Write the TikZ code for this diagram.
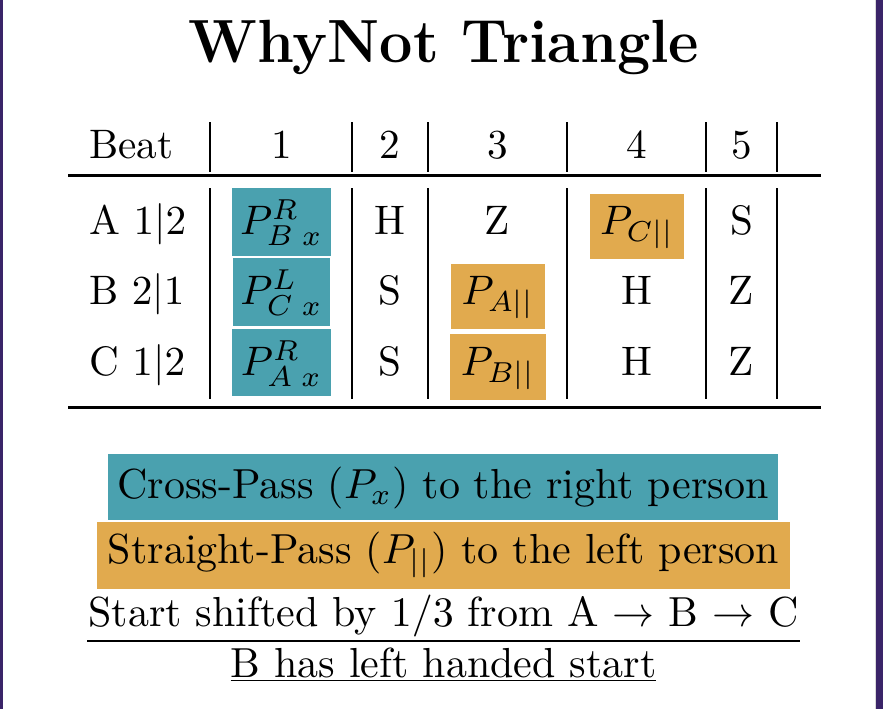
\RequirePackage{fix-cm}
\documentclass[tikz,border=0pt]{standalone}
\definecolor{tealc}{RGB}{74,161,175}
\definecolor{orangec}{RGB}{225,170,78}
\definecolor{purplec}{RGB}{58,36,104}
\newcommand{\tabtxt}[1]{\scalebox{4.12}{#1}}
\newcommand{\legtxt}[1]{\scalebox{4.2}{#1}}
\begin{document}
\begin{tikzpicture}[x=1pt,y=-1pt,
  every node/.style={inner sep=0pt, outer sep=0pt, font=\fontsize{10}{12}\selectfont},
  cell/.style={anchor=base},
  lcell/.style={anchor=base west},
  tealcell/.style={anchor=base, fill=tealc, text height=46pt, text depth=22pt, minimum width=99pt},
  orcell/.style={anchor=base, fill=orangec, text height=40pt, text depth=25pt, minimum width=95pt},
  tabrule/.style={line width=3pt},
  colrule/.style={line width=1.5pt},
]
\useasboundingbox (0,0) rectangle (883,709);
\fill[white] (0,0) rectangle (883,709);
\fill[purplec] (0,0) rectangle (2.7,709);
\draw[black!15, line width=1pt] (875.5,0) -- (875.5,709);
\fill[purplec] (876.3,0) rectangle (883,709);

% title
\node[anchor=base, font=\fontsize{61}{70}\selectfont\bfseries] (title) at (444,62.7) {\scalebox{0.97}[1]{WhyNot Triangle}};

% table rules
\coordinate (tl) at (68,175);   \coordinate (tr) at (821,175);
\coordinate (bl) at (68,407.5); \coordinate (br) at (821,407.5);
\draw[tabrule] (tl) -- (tr);
\draw[tabrule] (bl) -- (br);
\foreach \cx in {210,352,428,567,706,777}{
  \draw[colrule] (\cx,122) -- (\cx,172);
  \draw[colrule] (\cx,188) -- (\cx,399);
}

% header
\node[lcell] (hbeat) at (89,158) {\tabtxt{Beat}};
\node[cell] (h1) at (281.5,158) {\tabtxt{1}};
\node[cell] (h2) at (390,158) {\tabtxt{2}};
\node[cell] (h3) at (497.5,158) {\tabtxt{3}};
\node[cell] (h4) at (636.5,158) {\tabtxt{4}};
\node[cell] (h5) at (741.5,158) {\tabtxt{5}};

% row A
\node[lcell] (ra) at (89,234) {\tabtxt{A $1|2$}};
\node[tealcell] (a1) at (281.5,234) {\tabtxt{$P^{R}_{B\;x}$}};
\node[cell] (a2) at (390,234) {\tabtxt{H}};
\node[cell] (a3) at (497.5,234) {\tabtxt{Z}};
\node[orcell, minimum width=94pt] (a4) at (637,234) {\tabtxt{$P_{C||}$}};
\node[cell] (a5) at (741.5,234) {\tabtxt{S}};

% row B
\node[lcell] (rb) at (89,304) {\tabtxt{B $2|1$}};
\node[tealcell, minimum width=97pt] (b1) at (281.5,304) {\tabtxt{$P^{L}_{C\;x}$}};
\node[cell] (b2) at (390,304) {\tabtxt{S}};
\node[orcell, minimum width=94pt] (b3) at (498,304) {\tabtxt{$P_{A||}$}};
\node[cell] (b4) at (636.5,304) {\tabtxt{H}};
\node[cell] (b5) at (741.5,304) {\tabtxt{Z}};

% row C
\node[lcell] (rc) at (89,375) {\tabtxt{C $1|2$}};
\node[tealcell, text depth=21pt] (c1) at (281.5,375) {\tabtxt{$P^{R}_{A\;x}$}};
\node[cell] (c2) at (390,375) {\tabtxt{S}};
\node[orcell, text height=41pt, minimum width=96pt] (c3) at (498,375) {\tabtxt{$P_{B||}$}};
\node[cell] (c4) at (636.5,375) {\tabtxt{H}};
\node[cell] (c5) at (741.5,375) {\tabtxt{Z}};

% legend
\node[anchor=base, fill=tealc, text height=44pt, text depth=22pt, minimum width=670pt] (cross) at (443,498) {\legtxt{Cross-Pass ($P_x$) to the right person}};
\node[anchor=base, fill=orangec, text height=41pt, text depth=26pt, minimum width=693pt] (straight) at (443.5,563) {\legtxt{Straight-Pass ($P_{||}$) to the left person}};
\node[anchor=base, text height=28pt, text depth=15pt, minimum width=713pt] (start) at (443.5,626) {\legtxt{Start shifted by $1/3$ from A $\rightarrow$ B $\rightarrow$ C}};
\draw[line width=2pt] (start.south west) -- (start.south east);
\node[anchor=base, text height=28pt, text depth=3.5pt, minimum width=425pt] (lefth) at (443.5,677) {\legtxt{B has left handed start}};
\draw[line width=1.5pt] (lefth.south west) -- (lefth.south east);
\end{tikzpicture}
\end{document}
